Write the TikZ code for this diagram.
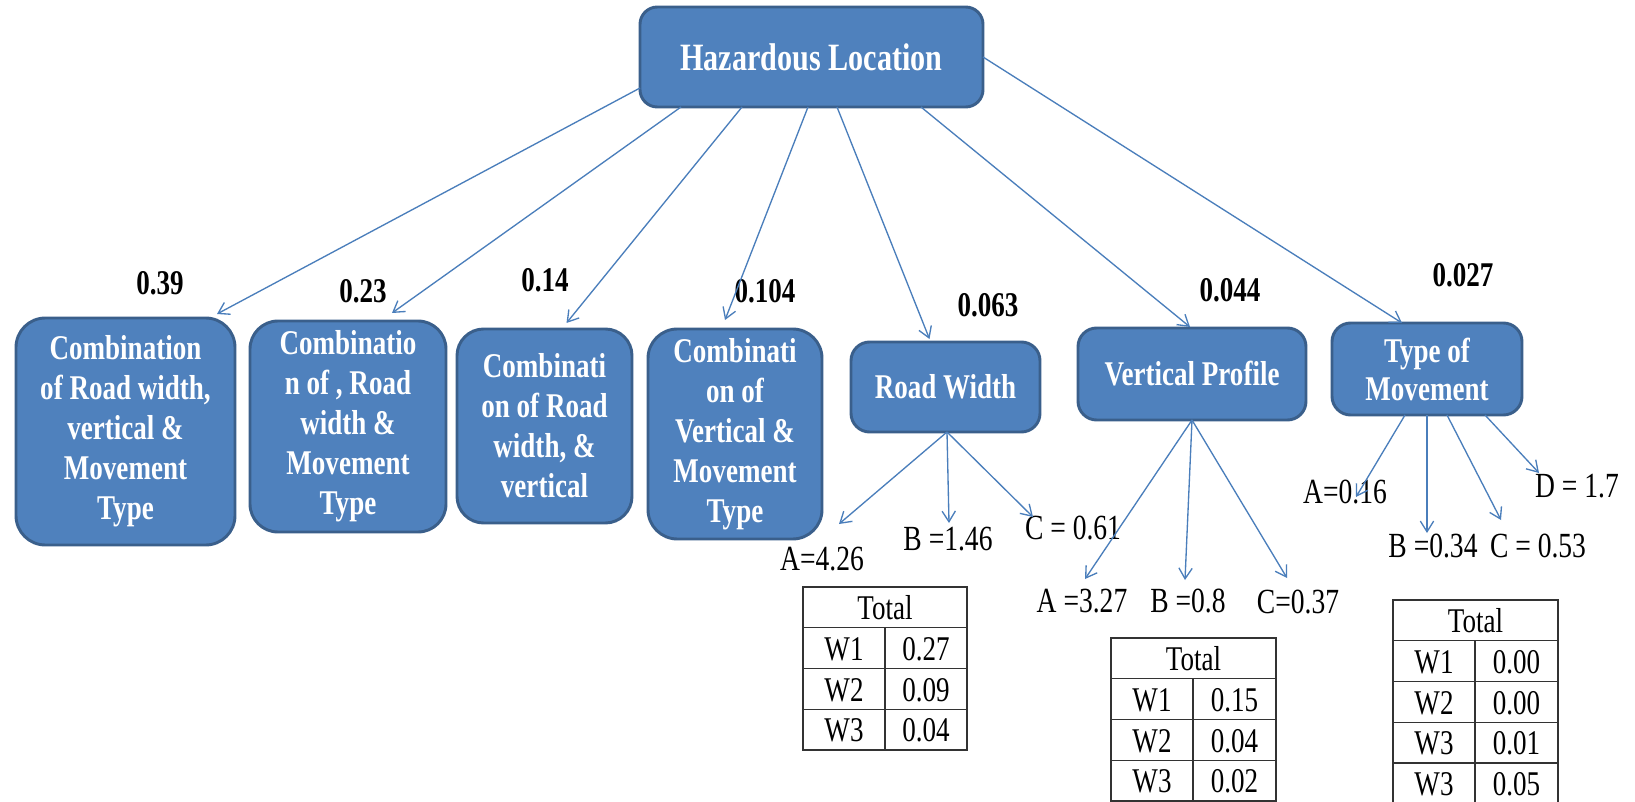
\documentclass[tikz,border=0pt]{standalone}
\usepackage{fontspec}
\setmainfont{Liberation Serif}[FakeStretch=0.78]
\usetikzlibrary{arrows.meta,calc}
\definecolor{boxfill}{HTML}{4F81BD}
\definecolor{boxborder}{HTML}{3A5F8B}
\definecolor{arrowc}{HTML}{4A7EBB}
\definecolor{tabc}{HTML}{333333}
\newcommand\hltable[6]{%
  \node[tabtxt] (#1h) at ({(#2+#4)/2},{#5+32.5}) {Total};
  \draw[tabline] (#2,#5) rectangle (#4,{#5+40.75});
  \foreach \w/\v [count=\i] in {#6} {
    \pgfmathsetmacro\yt{#5+\i*40.75}
    \draw[tabline] (#2,\yt) rectangle (#4,{\yt+40.75}) (#3,\yt) -- (#3,{\yt+40.75});
    \node[tabtxt] (#1w\i) at ({(#2+#3)/2},{\yt+32.5}) {\w};
    \node[tabtxt] (#1v\i) at ({(#3+#4)/2},{\yt+32.5}) {\v};
  }%
}
\begin{document}
\begin{tikzpicture}[x=0.75pt,y=-0.75pt,
  box/.style={draw=boxborder, fill=boxfill, line width=2.2pt, text=white,
    font=\bfseries\fontsize{26}{30}\selectfont, align=center, inner sep=0pt, outer sep=0pt},
  arr/.style={draw=arrowc, line width=1pt, -{Straight Barb[length=8pt,width=10pt]}},
  wt/.style={anchor=base, inner sep=0pt, font=\bfseries\fontsize{26}{30}\selectfont},
  lbl/.style={anchor=base, inner sep=0pt, font=\fontsize{26.5}{30}\selectfont},
  tabline/.style={draw=tabc, line width=1.1pt},
  tabtxt/.style={anchor=base, inner sep=0pt, font=\fontsize{26}{30}\selectfont}]
\fill[white] (0,0) rectangle (1635,802);
\useasboundingbox (0,0) rectangle (1635,802);

% boxes
\node[box, minimum width=257.25pt, minimum height=75pt, rounded corners=13pt,
  font=\bfseries\fontsize{29}{34}\selectfont] (root) at (811.5,57) {Hazardous Location};
\node[box, minimum width=164.25pt, minimum height=170.25pt, rounded corners=22pt] (b1) at (125.5,431.5)
  {Combination\\of Road width,\\vertical \&\\Movement\\Type};
\node[box, minimum width=147pt, minimum height=158.25pt, rounded corners=21pt] (b2) at (348,426.5)
  {Combinatio\\n of , Road\\width \&\\Movement\\Type};
\node[box, minimum width=131.25pt, minimum height=145.5pt, rounded corners=20pt] (b3) at (544.5,426)
  {Combinati\\on of Road\\width, \&\\vertical};
\node[box, minimum width=130.5pt, minimum height=157.5pt, rounded corners=22pt] (b4) at (735,434)
  {Combinati\\on of\\Vertical \&\\Movement\\Type};
\node[box, minimum width=141.75pt, minimum height=67.5pt, rounded corners=14pt] (rw) at (945.5,387) {Road Width};
\node[box, minimum width=171pt, minimum height=69pt, rounded corners=14pt] (vp) at (1192,374) {Vertical Profile};
\node[box, minimum width=142.5pt, minimum height=69pt, rounded corners=14pt,
  font=\bfseries\fontsize{26}{28.5}\selectfont] (tm) at (1427,369) {Type of\\Movement};

% weights
\node[wt] (w1) at (160,295) {0.39};
\node[wt] (w2) at (363,303) {0.23};
\node[wt] (w3) at (545,292) {0.14};
\node[wt] (w4) at (765,303) {0.104};
\node[wt] (w5) at (988,317) {0.063};
\node[wt] (w6) at (1230,301) {0.044};
\node[wt] (w7) at (1463,287) {0.027};

% root arrows
\draw[arr] ($(root.north west)+(0,81)$) -- ($(b1.north east)+(-18,-4)$);
\draw[arr] ($(root.south west)+(41,0)$) -- ($(b2.north)+(44,-8)$);
\draw[arr] ($(root.south west)+(102,0)$) -- ($(b3.north)+(22,-6)$);
\draw[arr] ($(root.south west)+(168,0)$) -- ($(b4.north)+(-10,-9)$);
\draw[arr] ($(root.south west)+(197,0)$) -- ($(rw.north)+(-16,-3)$);
\draw[arr] ($(root.south west)+(281,0)$) -- ($(vp.north)+(-2,-1)$);
\draw[arr] (root.east) -- ($(tm.north)+(-25,0)$);

% road width children
\node[lbl] (rwA) at (822,570) {A=4.26};
\node[lbl] (rwB) at (948,550) {B =1.46};
\node[lbl] (rwC) at (1073,539) {C = 0.61};
\coordinate (rwAt) at (839,524);
\coordinate (rwBt) at (949,523);
\coordinate (rwCt) at (1033,517);
\draw[arr] ($(rw.south)+(1.5,0)$) -- (rwAt);
\draw[arr] ($(rw.south)+(1.5,0)$) -- (rwBt);
\draw[arr] ($(rw.south)+(1.5,0)$) -- (rwCt);

% vertical profile children
\node[lbl] (vpA) at (1082,612) {A =3.27};
\node[lbl] (vpB) at (1188,612) {B =0.8};
\node[lbl] (vpC) at (1298,613) {C=0.37};
\coordinate (vpAt) at (1085,579);
\coordinate (vpBt) at (1185,580);
\coordinate (vpCt) at (1287,578);
\draw[arr] (vp.south) -- (vpAt);
\draw[arr] (vp.south) -- (vpBt);
\draw[arr] (vp.south) -- (vpCt);

% type of movement children
\node[lbl] (tmA) at (1345,503) {A=0.16};
\node[lbl] (tmB) at (1433,557) {B =0.34};
\node[lbl] (tmC) at (1538,557) {C = 0.53};
\node[lbl] (tmD) at (1577,497) {D = 1.7};
\coordinate (tmAt) at (1356,497);
\coordinate (tmBt) at (1427,533);
\coordinate (tmCt) at (1501,520);
\coordinate (tmDt) at (1539,473);
\draw[arr] ($(tm.south)+(-22,0)$) -- (tmAt);
\draw[arr] (tm.south) -- (tmBt);
\draw[arr] ($(tm.south)+(20,0)$) -- (tmCt);
\draw[arr] ($(tm.south)+(58,0)$) -- (tmDt);

% tables
\hltable{ta}{803}{885}{967}{587}{W1/0.27,W2/0.09,W3/0.04}
\hltable{tb}{1111}{1193}{1276}{638}{W1/0.15,W2/0.04,W3/0.02}
\hltable{tc}{1393}{1475}{1558}{600}{W1/0.00,W2/0.00,W3/0.01,W3/0.05}
\end{tikzpicture}
\end{document}
